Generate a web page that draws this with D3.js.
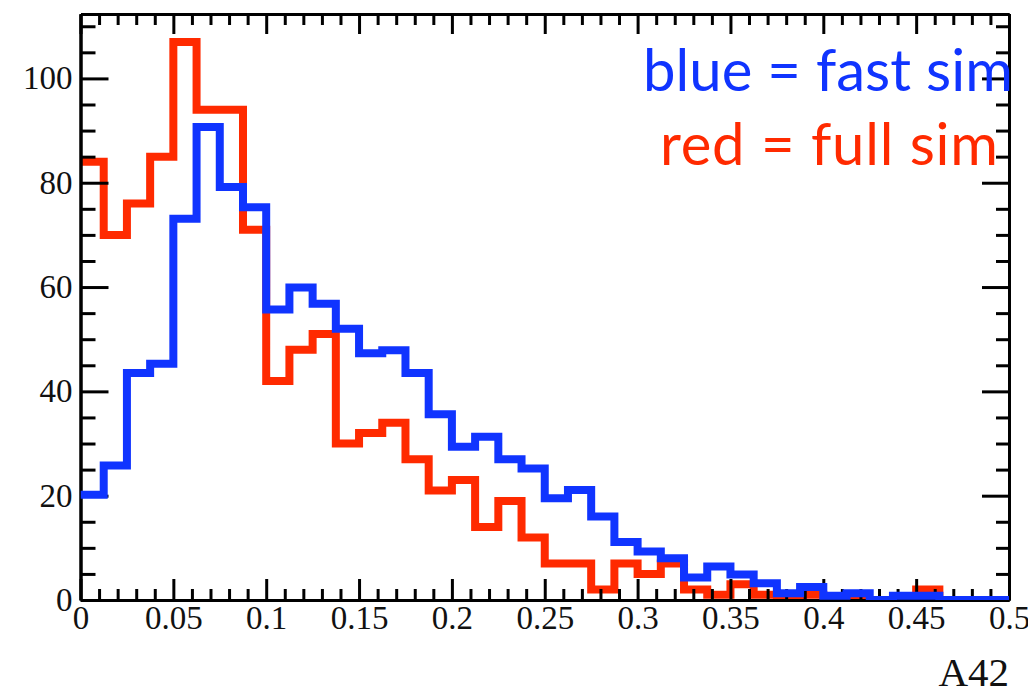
<!DOCTYPE html>
<html>
<head>
<meta charset="utf-8">
<script src="https://cdn.jsdelivr.net/npm/d3@7"></script>
<style>
  html, body { margin: 0; padding: 0; background: #fff; }
  svg { display: block; }
</style>
</head>
<body>
<svg id="chart" width="1028" height="691"></svg>
<script>
// Histogram binning of A42: 40 bins over [0, 0.5]
const xRange = [0, 0.5];
const nBins = 40;

// Bin contents, full simulation (red)
const fullSim = [84, 70, 76, 85, 107, 94, 94, 71, 42, 48,
                 51, 30, 32, 34, 27, 21, 23, 14, 19, 12,
                 7, 7, 2, 7, 5, 7, 2, 1, 3, 1,
                 0, 1, 0, 0, 0, 0, 2, 0, 0, 0];

// Bin contents, fast simulation (blue)
const fastSim = [20.2, 25.8, 43.5, 45.3, 73.1, 90.7, 79.2, 75.3, 55.7, 59.9,
                 56.8, 52, 47.3, 47.9, 43.5, 35.6, 29.4, 31.3, 27, 25.2,
                 19.5, 21.1, 16, 11.1, 9.3, 8, 4.3, 6.4, 4.9, 3.2,
                 1.3, 2.5, 0.8, 1.3, 0, 0.8, 0.8, 0, 0, 0];

// Axis ticks
const xMajorTicks = [0, 0.05, 0.1, 0.15, 0.2, 0.25, 0.3, 0.35, 0.4, 0.45, 0.5];
const xTickLabels = ["0", "0.05", "0.1", "0.15", "0.2", "0.25", "0.3", "0.35", "0.4", "0.45", "0.5"];
const xMinorStep = 0.01;
const yMajorTicks = [0, 20, 40, 60, 80, 100];
const yMinorStep = 5;
const yMax = 112.35;

const xTitle = "A42";
const legendLines = [
  { text: "blue = fast sim", color: "#1034ff" },
  { text: "red = full sim",  color: "#ff2a00" }
];

const colors = { full: "#ff2a00", fast: "#1034ff" };

// Frame
const frame = { left: 80.5, right: 1009, top: 14, bottom: 600 };

const svg = d3.select("#chart");

const x = d3.scaleLinear().domain(xRange).range([frame.left, frame.right]);
const y = d3.scaleLinear().domain([0, yMax]).range([frame.bottom, frame.top]);

const binWidth = (xRange[1] - xRange[0]) / nBins;
const edges = d3.range(nBins + 1).map(i => xRange[0] + i * binWidth);

svg.append("clipPath").attr("id", "frameClip")
  .append("rect")
  .attr("x", frame.left).attr("y", frame.top)
  .attr("width", frame.right - frame.left)
  .attr("height", frame.bottom - frame.top);

const stepLine = d3.line()
  .x(d => x(d[0]))
  .y(d => y(d[1]))
  .curve(d3.curveStepAfter);

function histPoints(values) {
  const pts = values.map((v, i) => [edges[i], v]);
  pts.push([edges[nBins], values[nBins - 1]]);
  return pts;
}

function drawHist(values, color) {
  svg.append("path")
    .datum(histPoints(values))
    .attr("clip-path", "url(#frameClip)")
    .attr("fill", "none")
    .attr("stroke", color)
    .attr("stroke-width", 8)
    .attr("stroke-linejoin", "miter")
    .attr("stroke-linecap", "butt")
    .attr("d", stepLine);
}

// First histogram, then the axes, then the overlaid one
drawHist(fullSim, colors.full);

const axisFont = "'Liberation Serif', 'Times New Roman', serif";
const minorX = d3.range(xRange[0], xRange[1] + 1e-9, xMinorStep)
  .filter(v => !xMajorTicks.some(t => Math.abs(t - v) < 1e-9));
const minorY = d3.range(0, yMax, yMinorStep)
  .filter(v => !yMajorTicks.includes(v));

function styleAxis(g) {
  g.selectAll("path.domain").attr("stroke", "#000").attr("stroke-width", 3);
  g.selectAll(".tick line").attr("stroke", "#000").attr("stroke-width", 3);
  g.selectAll("text")
    .attr("fill", "#111")
    .style("font-family", axisFont)
    .style("font-size", "33px");
}

// Bottom axis
svg.append("g").attr("transform", `translate(0,${frame.bottom})`)
  .call(d3.axisBottom(x).tickValues(minorX).tickSizeInner(-11).tickSizeOuter(0).tickFormat(""))
  .call(styleAxis);
svg.append("g").attr("transform", `translate(0,${frame.bottom})`)
  .call(d3.axisBottom(x).tickValues(xMajorTicks).tickSizeInner(-21).tickSizeOuter(0)
    .tickPadding(6).tickFormat((d, i) => xTickLabels[i]))
  .call(styleAxis);

// Top axis
svg.append("g").attr("transform", `translate(0,${frame.top})`)
  .call(d3.axisTop(x).tickValues(minorX).tickSizeInner(-11).tickSizeOuter(0).tickFormat(""))
  .call(styleAxis);
svg.append("g").attr("transform", `translate(0,${frame.top})`)
  .call(d3.axisTop(x).tickValues(xMajorTicks).tickSizeInner(-20).tickSizeOuter(0).tickFormat(""))
  .call(styleAxis);

// Left axis
svg.append("g").attr("transform", `translate(${frame.left},0)`)
  .call(d3.axisLeft(y).tickValues(minorY).tickSizeInner(-15).tickSizeOuter(0).tickFormat(""))
  .call(styleAxis);
svg.append("g").attr("transform", `translate(${frame.left},0)`)
  .call(d3.axisLeft(y).tickValues(yMajorTicks).tickSizeInner(-28).tickSizeOuter(0)
    .tickPadding(8).tickFormat(d3.format("d")))
  .call(styleAxis);

// Right axis
svg.append("g").attr("transform", `translate(${frame.right},0)`)
  .call(d3.axisRight(y).tickValues(minorY).tickSizeInner(-13).tickSizeOuter(0).tickFormat(""))
  .call(styleAxis);
svg.append("g").attr("transform", `translate(${frame.right},0)`)
  .call(d3.axisRight(y).tickValues(yMajorTicks).tickSizeInner(-27).tickSizeOuter(0).tickFormat(""))
  .call(styleAxis);

// Overlaid histogram
drawHist(fastSim, colors.fast);

// X axis title
svg.append("text")
  .attr("x", frame.right)
  .attr("y", 686)
  .attr("text-anchor", "end")
  .attr("fill", "#111")
  .style("font-family", axisFont)
  .style("font-size", "41px")
  .text(xTitle);

// Legend text
const legendPos = [{ x: 643, y: 91, w: 370 }, { x: 660, y: 165, w: 338 }];
svg.selectAll("text.legend")
  .data(legendLines)
  .join("text")
  .attr("class", "legend")
  .attr("x", (d, i) => legendPos[i].x)
  .attr("y", (d, i) => legendPos[i].y)
  .attr("textLength", (d, i) => legendPos[i].w)
  .attr("lengthAdjust", "spacing")
  .attr("fill", d => d.color)
  .style("font-family", "Lato, 'Open Sans', sans-serif")
  .style("font-size", "58px")
  .text(d => d.text);
</script>
</body>
</html>
